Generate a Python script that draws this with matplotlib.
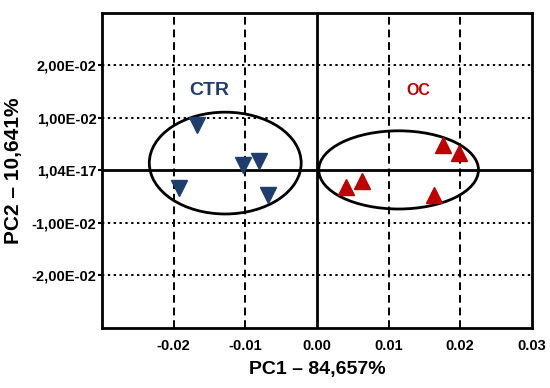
import matplotlib.pyplot as plt
from matplotlib.patches import Ellipse

plt.rcParams['font.family'] = ['Liberation Sans Narrow', 'Liberation Sans', 'DejaVu Sans']
plt.rcParams['font.weight'] = 'bold'

# scores
ctr_x = [-0.0167, -0.0103, -0.0081, -0.0193, -0.0068]
ctr_y = [0.0087, 0.0010, 0.0018, -0.0033, -0.0047]
oc_x = [0.0176, 0.0198, 0.0063, 0.0040, 0.0163]
oc_y = [0.0049, 0.0033, -0.0020, -0.0031, -0.0047]

x_ticks = [-0.02, -0.01, 0.00, 0.01, 0.02, 0.03]
x_labels = ['-0.02', '-0.01', '0.00', '0.01', '0.02', '0.03']
y_ticks = [0.02, 0.01, 0.0, -0.01, -0.02]
y_labels = ['2,00E-02', '1,00E-02', '1,04E-17', '-1,00E-02', '-2,00E-02']

navy = '#1f3d6e'
red = '#c00000'

fig = plt.figure(figsize=(5.5, 3.88), dpi=100)
ax = fig.add_axes([0.1855, 0.155, 0.7815, 0.8115])
ax.set_xlim(-0.03, 0.03)
ax.set_ylim(-0.03, 0.03)

for x in x_ticks[:-1]:
    if x == 0:
        ax.axvline(x, color='black', lw=2, zorder=1)
    else:
        ax.axvline(x, color='black', lw=1.4, ls=(0, (4, 2.5)), zorder=1)
for y in y_ticks:
    if y == 0:
        ax.axhline(y, color='black', lw=2, zorder=1)
    else:
        ax.axhline(y, color='black', lw=1.4, ls=(0, (1.2, 1.8)), zorder=1)

ax.add_patch(Ellipse((-0.0128, 0.0014), 0.0212, 0.0194, fill=False, ec='black', lw=2, zorder=2))
ax.add_patch(Ellipse((0.0114, 0.0001), 0.0223, 0.0149, fill=False, ec='black', lw=2, zorder=2))

ax.plot(ctr_x, ctr_y, ls='none', marker='v', ms=12, color=navy, zorder=3)
ax.plot(oc_x, oc_y, ls='none', marker='^', ms=12, color=red, zorder=3)

ax.text(-0.0151, 0.0152, 'CTR', color=navy, fontsize=14, fontweight='bold',
        ha='center', va='center')
ax.text(0.0141, 0.0152, 'OC', color=red, fontsize=11.5, fontweight='bold',
        ha='center', va='center')

ax.set_xticks(x_ticks)
ax.set_xticklabels(x_labels)
ax.set_yticks(y_ticks)
ax.set_yticklabels(y_labels)
ax.tick_params(axis='x', length=0, pad=8, labelsize=10.5)
ax.tick_params(axis='y', length=3, width=1.5, pad=1, labelsize=10.5)

for s in ax.spines.values():
    s.set_linewidth(2)

ax.set_xlabel('PC1 – 84,657%', fontsize=14, fontweight='bold', labelpad=6)
ax.set_ylabel('PC2 – 10,641%', fontsize=15, fontweight='bold', labelpad=6)

fig.savefig('out.png', dpi=100)
